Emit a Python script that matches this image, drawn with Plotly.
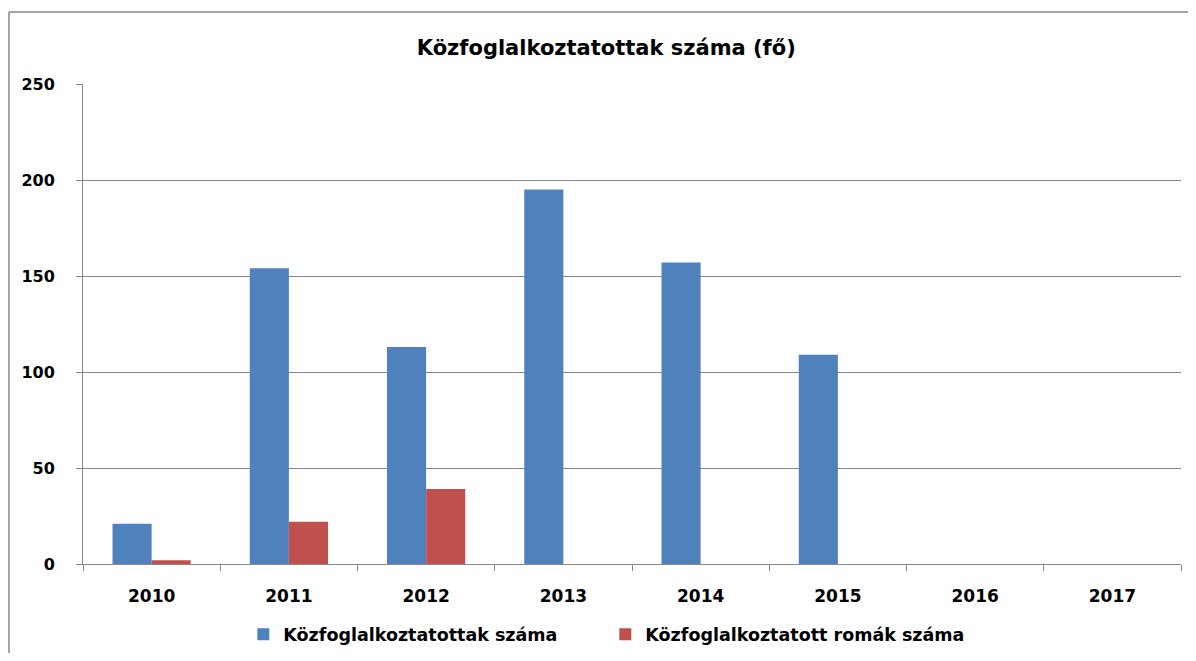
import plotly.graph_objects as go

years = ['2010', '2011', '2012', '2013', '2014', '2015', '2016', '2017']
kozfog = [21, 154, 113, 195, 157, 109, 0, 0]
romak = [2, 22, 39, 0, 0, 0, 0, 0]

font_main = 'DejaVu Sans'

fig = go.Figure()
fig.add_trace(go.Bar(x=years, y=kozfog, name='Közfoglalkoztatottak száma',
                     marker=dict(color='#4F81BD', line=dict(width=0))))
fig.add_trace(go.Bar(x=years, y=romak, name='Közfoglalkoztatott romák száma',
                     marker=dict(color='#C0504D', line=dict(width=0))))

# a html oldal 8px-es margoja miatt kisebb a meret
fig.update_layout(
    width=1180, height=645,
    margin=dict(l=75, r=7, t=76, b=89),
    paper_bgcolor='white', plot_bgcolor='white',
    barmode='group', bargap=0.43, bargroupgap=0,
    title=dict(text='<b>Közfoglalkoztatottak száma (fő)</b>', x=0.507, xanchor='center',
               y=0.938, yanchor='middle', font=dict(family=font_main, size=21, color='black')),
    legend=dict(orientation='h', x=0.146, xanchor='left', yref='container', y=0.029, yanchor='middle',
                font=dict(family=font_main, size=17.5, color='black', weight='bold'),
                itemwidth=30, tracegroupgap=0, entrywidth=317),
    showlegend=True,
)

fig.update_yaxes(range=[0, 250], dtick=50, showgrid=True, gridcolor='#878787', gridwidth=1,
                 showline=True, linecolor='#878787', linewidth=1,
                 ticks='outside', ticklen=6, tickcolor='#878787', ticklabelstandoff=18,
                 tickfont=dict(family=font_main, size=16, color='black', weight='bold'),
                 zeroline=False)
fig.update_xaxes(showline=True, linecolor='#878787', linewidth=1,
                 ticks='outside', ticklen=6, tickcolor='#878787', tickson='boundaries',
                 ticklabelstandoff=17,
                 tickfont=dict(family=font_main, size=17, color='black', weight='bold'),
                 showgrid=False)

# keret a diagram korul (bal es felso szel)
fig.add_shape(type='line', xref='paper', yref='paper', x0=-0.0674, x1=-0.0674, y0=-0.21, y1=1.15,
              line=dict(color='#878787', width=1.5))
fig.add_shape(type='line', xref='paper', yref='paper', x0=-0.0674, x1=1.02, y0=1.15, y1=1.15,
              line=dict(color='#878787', width=1.5))

fig.write_html("out.html")
